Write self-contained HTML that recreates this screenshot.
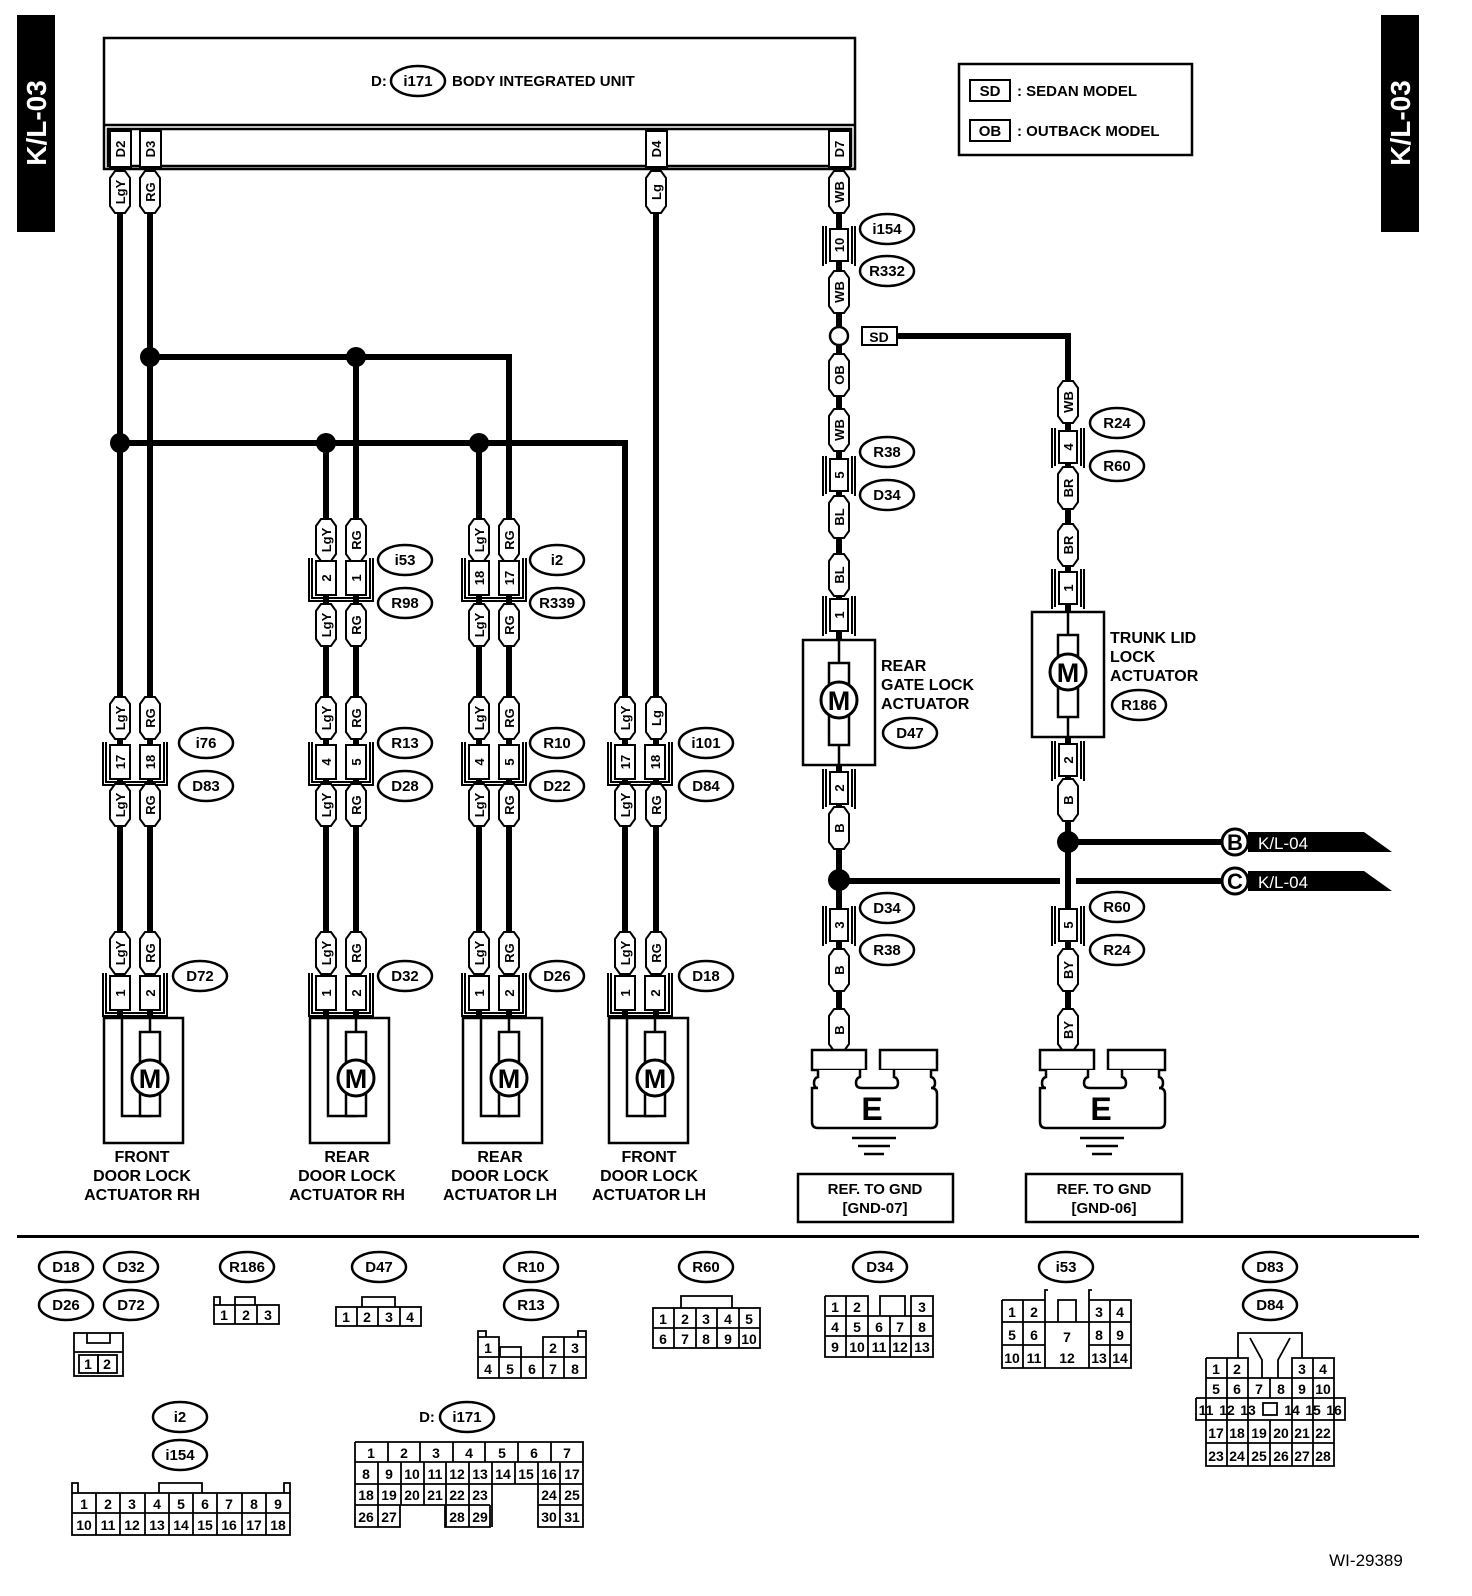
<!DOCTYPE html>
<html><head><meta charset="utf-8"><style>
html,body{margin:0;padding:0;background:#fff}
svg{display:block}
text{font-family:"Liberation Sans",Arial,sans-serif;font-weight:bold;fill:#000}
.s{font-size:16px}
.w{font-size:13px}
.n{font-size:13px;font-weight:normal}
</style></head><body>
<svg width="1472" height="1596" viewBox="0 0 1472 1596" xmlns="http://www.w3.org/2000/svg">
<defs>
<path id="p" d="M-10,-14 L-5,-21 L5,-21 L10,-14 L10,14 L5,21 L-5,21 L-10,14 Z" fill="#fff" stroke="#000" stroke-width="2"/>
<g id="c2" fill="none" stroke="#000" stroke-width="2">
<rect x="-10" y="-17" width="20" height="34" fill="#fff"/><rect x="20" y="-17" width="20" height="34" fill="#fff"/>
<path d="M-14,-20 V20 H44 V-20"/><path d="M-17,-20 V23 H47 V-20"/>
</g>
<g id="c1" fill="none" stroke="#000" stroke-width="2">
<rect x="-9" y="-16" width="18" height="32" fill="#fff"/>
<path d="M-13,-19 V19 M13,-19 V19 M-16,-19 V21 M16,-19 V21"/>
</g>
<g id="dact" fill="none" stroke="#000" stroke-width="2.5">
<rect x="-16" y="0" width="79" height="125" fill="#fff"/>
<path d="M2,0 V98 H30 V84 M30,0 V14"/>
<rect x="20" y="14" width="20" height="84" fill="#fff"/>
<circle cx="30" cy="60" r="18" fill="#fff" stroke-width="3"/>
</g>
<g id="vact" fill="none" stroke="#000" stroke-width="2.5">
<rect x="-36" y="0" width="72" height="125" fill="#fff"/>
<path d="M0,0 V125"/>
<rect x="-10" y="23" width="20" height="82" fill="#fff"/>
<circle cx="0" cy="60" r="18" fill="#fff" stroke-width="3"/>
</g>
<g id="gnd" fill="none" stroke="#000" stroke-width="2.5">
<rect x="0" y="0" width="54" height="20" fill="#fff"/>
<rect x="68" y="0" width="57" height="20" fill="#fff"/>
<path d="M6,20 V27 Q2,28 2,33 Q2,38 6,38 H0 Q0,38 0,44 V72 Q0,78 6,78 H119 Q125,78 125,72 V44 Q125,38 119,38 Q123,38 123,33 Q123,28 119,27 V20 M48,20 V27 Q44,28 44,33 Q44,38 50,38 H81 Q86,38 86,33 Q86,28 82,27 V20" fill="#fff"/>
<path d="M40,88 H84 M46,96 H78 M52,104 H72" stroke-width="2.5"/>
</g>
<ellipse id="o" cx="0" cy="0" rx="27" ry="15" fill="#fff" stroke="#000" stroke-width="2.5"/>
</defs>

<rect x="17" y="15" width="38" height="217" fill="#000"/>
<text transform="translate(46,123) rotate(-90)" text-anchor="middle" style="font-size:28px;fill:#fff">K/L-03</text>
<rect x="1381" y="15" width="38" height="217" fill="#000"/>
<text transform="translate(1410,123) rotate(-90)" text-anchor="middle" style="font-size:28px;fill:#fff">K/L-03</text>

<g fill="none" stroke="#000" stroke-width="2.5">
<rect x="104" y="38" width="751" height="131"/>
<path d="M104,125 H855 M108,129 H851 V166 H108 Z"/>
</g>
<g fill="#fff" stroke="#000" stroke-width="2">
<rect x="110" y="131" width="21" height="36"/><rect x="140" y="131" width="21" height="36"/>
<rect x="646" y="131" width="21" height="36"/><rect x="829" y="131" width="21" height="36"/>
</g>
<g class="w">
<text transform="translate(125,149) rotate(-90)" text-anchor="middle">D2</text>
<text transform="translate(155,149) rotate(-90)" text-anchor="middle">D3</text>
<text transform="translate(661,149) rotate(-90)" text-anchor="middle">D4</text>
<text transform="translate(844,149) rotate(-90)" text-anchor="middle">D7</text>
</g>
<text x="371" y="86" class="w" style="font-size:15px">D:</text>
<use href="#o" x="418" y="81"/>
<text x="418" y="86" text-anchor="middle" class="w" style="font-size:15px">i171</text>
<text x="452" y="86" class="w" style="font-size:15px">BODY INTEGRATED UNIT</text>

<rect x="959" y="64" width="233" height="91" fill="none" stroke="#000" stroke-width="2.5"/>
<rect x="970" y="80" width="40" height="21" fill="none" stroke="#000" stroke-width="2"/>
<text x="990" y="96" text-anchor="middle" class="w" style="font-size:15px">SD</text>
<text x="1017" y="96" class="w" style="font-size:15px">: SEDAN MODEL</text>
<rect x="970" y="120" width="40" height="21" fill="none" stroke="#000" stroke-width="2"/>
<text x="990" y="136" text-anchor="middle" class="w" style="font-size:15px">OB</text>
<text x="1017" y="136" class="w" style="font-size:15px">: OUTBACK MODEL</text>

<g fill="none" stroke="#000" stroke-width="6">
<path d="M120,170 V1018 M150,170 V1018 M656,170 V1018 M326,443 V1018 M356,357 V1018 M479,443 V1018"/>
<path d="M150,357 H509 V1018"/>
<path d="M120,443 H625 V1018"/>
<path d="M839,170 V1050"/>
<path d="M897,336 H1068 V1050"/>
<path d="M1068,842 H1222"/>
<path d="M839,881 H1222"/>
</g>
<rect x="1060" y="875" width="16" height="12" fill="#fff"/>
<rect x="1065" y="870" width="6" height="22" fill="#000"/>
<g fill="#000">
<circle cx="150" cy="357" r="10"/><circle cx="356" cy="357" r="10"/>
<circle cx="120" cy="443" r="10"/><circle cx="326" cy="443" r="10"/><circle cx="479" cy="443" r="10"/>
<circle cx="839" cy="880" r="11"/><circle cx="1068" cy="842" r="11"/>
</g>
<circle cx="839" cy="336" r="9" fill="#fff" stroke="#000" stroke-width="2.5"/>
<rect x="862" y="327" width="35" height="18" fill="#fff" stroke="#000" stroke-width="2"/>
<text x="879" y="342" text-anchor="middle" class="w" style="font-size:14px">SD</text>

<path d="M1248,832 H1364 L1392,852 H1248 Z" fill="#000"/>
<circle cx="1235" cy="842" r="13" fill="#fff" stroke="#000" stroke-width="3"/>
<text x="1235" y="850" text-anchor="middle" style="font-size:22px">B</text>
<text x="1258" y="849" style="font-size:17px;fill:#fff;font-weight:normal">K/L-04</text>
<path d="M1248,871 H1364 L1392,891 H1248 Z" fill="#000"/>
<circle cx="1235" cy="881" r="13" fill="#fff" stroke="#000" stroke-width="3"/>
<text x="1235" y="889" text-anchor="middle" style="font-size:22px">C</text>
<text x="1258" y="888" style="font-size:17px;fill:#fff;font-weight:normal">K/L-04</text>

<use href="#c2" x="120" y="762"/><use href="#c2" x="326" y="762"/><use href="#c2" x="479" y="762"/><use href="#c2" x="625" y="762"/>
<use href="#c2" x="326" y="578"/><use href="#c2" x="479" y="578"/>
<use href="#c2" x="120" y="993"/><use href="#c2" x="326" y="993"/><use href="#c2" x="479" y="993"/><use href="#c2" x="625" y="993"/>
<g class="w">
<text transform="translate(125,762) rotate(-90)" text-anchor="middle">17</text><text transform="translate(155,762) rotate(-90)" text-anchor="middle">18</text>
<text transform="translate(331,762) rotate(-90)" text-anchor="middle">4</text><text transform="translate(361,762) rotate(-90)" text-anchor="middle">5</text>
<text transform="translate(484,762) rotate(-90)" text-anchor="middle">4</text><text transform="translate(514,762) rotate(-90)" text-anchor="middle">5</text>
<text transform="translate(630,762) rotate(-90)" text-anchor="middle">17</text><text transform="translate(660,762) rotate(-90)" text-anchor="middle">18</text>
<text transform="translate(331,578) rotate(-90)" text-anchor="middle">2</text><text transform="translate(361,578) rotate(-90)" text-anchor="middle">1</text>
<text transform="translate(484,578) rotate(-90)" text-anchor="middle">18</text><text transform="translate(514,578) rotate(-90)" text-anchor="middle">17</text>
<text transform="translate(125,993) rotate(-90)" text-anchor="middle">1</text><text transform="translate(155,993) rotate(-90)" text-anchor="middle">2</text>
<text transform="translate(331,993) rotate(-90)" text-anchor="middle">1</text><text transform="translate(361,993) rotate(-90)" text-anchor="middle">2</text>
<text transform="translate(484,993) rotate(-90)" text-anchor="middle">1</text><text transform="translate(514,993) rotate(-90)" text-anchor="middle">2</text>
<text transform="translate(630,993) rotate(-90)" text-anchor="middle">1</text><text transform="translate(660,993) rotate(-90)" text-anchor="middle">2</text>
</g>

<use href="#c1" x="839" y="245"/><use href="#c1" x="839" y="475"/><use href="#c1" x="839" y="615"/><use href="#c1" x="839" y="788"/><use href="#c1" x="839" y="925"/>
<use href="#c1" x="1068" y="447"/><use href="#c1" x="1068" y="588"/><use href="#c1" x="1068" y="760"/><use href="#c1" x="1068" y="925"/>
<g class="w">
<text transform="translate(844,245) rotate(-90)" text-anchor="middle">10</text>
<text transform="translate(844,475) rotate(-90)" text-anchor="middle">5</text>
<text transform="translate(844,615) rotate(-90)" text-anchor="middle">1</text>
<text transform="translate(844,788) rotate(-90)" text-anchor="middle">2</text>
<text transform="translate(844,925) rotate(-90)" text-anchor="middle">3</text>
<text transform="translate(1073,447) rotate(-90)" text-anchor="middle">4</text>
<text transform="translate(1073,588) rotate(-90)" text-anchor="middle">1</text>
<text transform="translate(1073,760) rotate(-90)" text-anchor="middle">2</text>
<text transform="translate(1073,925) rotate(-90)" text-anchor="middle">5</text>
</g>

<g>
<use href="#p" x="120" y="192"/><use href="#p" x="150" y="192"/><use href="#p" x="656" y="192"/><use href="#p" x="839" y="192"/>
<use href="#p" x="326" y="540"/><use href="#p" x="356" y="540"/><use href="#p" x="479" y="540"/><use href="#p" x="509" y="540"/>
<use href="#p" x="326" y="625"/><use href="#p" x="356" y="625"/><use href="#p" x="479" y="625"/><use href="#p" x="509" y="625"/>
<use href="#p" x="120" y="718"/><use href="#p" x="150" y="718"/><use href="#p" x="326" y="718"/><use href="#p" x="356" y="718"/><use href="#p" x="479" y="718"/><use href="#p" x="509" y="718"/><use href="#p" x="625" y="718"/><use href="#p" x="656" y="718"/>
<use href="#p" x="120" y="805"/><use href="#p" x="150" y="805"/><use href="#p" x="326" y="805"/><use href="#p" x="356" y="805"/><use href="#p" x="479" y="805"/><use href="#p" x="509" y="805"/><use href="#p" x="625" y="805"/><use href="#p" x="656" y="805"/>
<use href="#p" x="120" y="953"/><use href="#p" x="150" y="953"/><use href="#p" x="326" y="953"/><use href="#p" x="356" y="953"/><use href="#p" x="479" y="953"/><use href="#p" x="509" y="953"/><use href="#p" x="625" y="953"/><use href="#p" x="656" y="953"/>
<use href="#p" x="839" y="292"/><use href="#p" x="839" y="375"/><use href="#p" x="839" y="430"/><use href="#p" x="839" y="517"/><use href="#p" x="839" y="575"/><use href="#p" x="839" y="828"/><use href="#p" x="839" y="970"/><use href="#p" x="839" y="1030"/>
<use href="#p" x="1068" y="402"/><use href="#p" x="1068" y="488"/><use href="#p" x="1068" y="545"/><use href="#p" x="1068" y="800"/><use href="#p" x="1068" y="970"/><use href="#p" x="1068" y="1030"/>
</g>
<g class="w">
<text transform="translate(125,192) rotate(-90)" text-anchor="middle">LgY</text><text transform="translate(155,192) rotate(-90)" text-anchor="middle">RG</text>
<text transform="translate(661,192) rotate(-90)" text-anchor="middle">Lg</text><text transform="translate(844,192) rotate(-90)" text-anchor="middle">WB</text>
<text transform="translate(331,540) rotate(-90)" text-anchor="middle">LgY</text><text transform="translate(361,540) rotate(-90)" text-anchor="middle">RG</text><text transform="translate(484,540) rotate(-90)" text-anchor="middle">LgY</text><text transform="translate(514,540) rotate(-90)" text-anchor="middle">RG</text>
<text transform="translate(331,625) rotate(-90)" text-anchor="middle">LgY</text><text transform="translate(361,625) rotate(-90)" text-anchor="middle">RG</text><text transform="translate(484,625) rotate(-90)" text-anchor="middle">LgY</text><text transform="translate(514,625) rotate(-90)" text-anchor="middle">RG</text>
<text transform="translate(125,718) rotate(-90)" text-anchor="middle">LgY</text><text transform="translate(155,718) rotate(-90)" text-anchor="middle">RG</text><text transform="translate(331,718) rotate(-90)" text-anchor="middle">LgY</text><text transform="translate(361,718) rotate(-90)" text-anchor="middle">RG</text><text transform="translate(484,718) rotate(-90)" text-anchor="middle">LgY</text><text transform="translate(514,718) rotate(-90)" text-anchor="middle">RG</text><text transform="translate(630,718) rotate(-90)" text-anchor="middle">LgY</text><text transform="translate(661,718) rotate(-90)" text-anchor="middle">Lg</text>
<text transform="translate(125,805) rotate(-90)" text-anchor="middle">LgY</text><text transform="translate(155,805) rotate(-90)" text-anchor="middle">RG</text><text transform="translate(331,805) rotate(-90)" text-anchor="middle">LgY</text><text transform="translate(361,805) rotate(-90)" text-anchor="middle">RG</text><text transform="translate(484,805) rotate(-90)" text-anchor="middle">LgY</text><text transform="translate(514,805) rotate(-90)" text-anchor="middle">RG</text><text transform="translate(630,805) rotate(-90)" text-anchor="middle">LgY</text><text transform="translate(661,805) rotate(-90)" text-anchor="middle">RG</text>
<text transform="translate(125,953) rotate(-90)" text-anchor="middle">LgY</text><text transform="translate(155,953) rotate(-90)" text-anchor="middle">RG</text><text transform="translate(331,953) rotate(-90)" text-anchor="middle">LgY</text><text transform="translate(361,953) rotate(-90)" text-anchor="middle">RG</text><text transform="translate(484,953) rotate(-90)" text-anchor="middle">LgY</text><text transform="translate(514,953) rotate(-90)" text-anchor="middle">RG</text><text transform="translate(630,953) rotate(-90)" text-anchor="middle">LgY</text><text transform="translate(661,953) rotate(-90)" text-anchor="middle">RG</text>
<text transform="translate(844,292) rotate(-90)" text-anchor="middle">WB</text><text transform="translate(844,375) rotate(-90)" text-anchor="middle">OB</text><text transform="translate(844,430) rotate(-90)" text-anchor="middle">WB</text><text transform="translate(844,517) rotate(-90)" text-anchor="middle">BL</text><text transform="translate(844,575) rotate(-90)" text-anchor="middle">BL</text><text transform="translate(844,828) rotate(-90)" text-anchor="middle">B</text><text transform="translate(844,970) rotate(-90)" text-anchor="middle">B</text><text transform="translate(844,1030) rotate(-90)" text-anchor="middle">B</text>
<text transform="translate(1073,402) rotate(-90)" text-anchor="middle">WB</text><text transform="translate(1073,488) rotate(-90)" text-anchor="middle">BR</text><text transform="translate(1073,545) rotate(-90)" text-anchor="middle">BR</text><text transform="translate(1073,800) rotate(-90)" text-anchor="middle">B</text><text transform="translate(1073,970) rotate(-90)" text-anchor="middle">BY</text><text transform="translate(1073,1030) rotate(-90)" text-anchor="middle">BY</text>
</g>

<use href="#dact" x="120" y="1018"/><use href="#dact" x="326" y="1018"/><use href="#dact" x="479" y="1018"/><use href="#dact" x="625" y="1018"/>
<use href="#vact" x="839" y="640"/><use href="#vact" x="1068" y="612"/>
<g style="font-size:27px">
<text x="150" y="1088" text-anchor="middle">M</text><text x="356" y="1088" text-anchor="middle">M</text>
<text x="509" y="1088" text-anchor="middle">M</text><text x="655" y="1088" text-anchor="middle">M</text>
<text x="839" y="710" text-anchor="middle">M</text><text x="1068" y="682" text-anchor="middle">M</text>
</g>
<g class="s" text-anchor="middle">
<text x="142" y="1162">FRONT</text><text x="142" y="1181">DOOR LOCK</text><text x="142" y="1200">ACTUATOR RH</text>
<text x="347" y="1162">REAR</text><text x="347" y="1181">DOOR LOCK</text><text x="347" y="1200">ACTUATOR RH</text>
<text x="500" y="1162">REAR</text><text x="500" y="1181">DOOR LOCK</text><text x="500" y="1200">ACTUATOR LH</text>
<text x="649" y="1162">FRONT</text><text x="649" y="1181">DOOR LOCK</text><text x="649" y="1200">ACTUATOR LH</text>
</g>
<g class="s">
<text x="881" y="671">REAR</text><text x="881" y="690">GATE LOCK</text><text x="881" y="709">ACTUATOR</text>
<text x="1110" y="643">TRUNK LID</text><text x="1110" y="662">LOCK</text><text x="1110" y="681">ACTUATOR</text>
</g>

<use href="#gnd" x="812" y="1050"/><use href="#gnd" x="1040" y="1050"/>
<g style="font-size:32px" text-anchor="middle"><text x="872" y="1120">E</text><text x="1101" y="1120">E</text></g>
<rect x="798" y="1174" width="155" height="48" fill="none" stroke="#000" stroke-width="2.5"/>
<rect x="1026" y="1174" width="156" height="48" fill="none" stroke="#000" stroke-width="2.5"/>
<g class="w" style="font-size:15px" text-anchor="middle">
<text x="875" y="1194">REF. TO GND</text><text x="875" y="1213">[GND-07]</text>
<text x="1104" y="1194">REF. TO GND</text><text x="1104" y="1213">[GND-06]</text>
</g>

<g>
<use href="#o" x="206" y="743"/><use href="#o" x="206" y="786"/>
<use href="#o" x="405" y="743"/><use href="#o" x="405" y="786"/>
<use href="#o" x="557" y="743"/><use href="#o" x="557" y="786"/>
<use href="#o" x="706" y="743"/><use href="#o" x="706" y="786"/>
<use href="#o" x="405" y="560"/><use href="#o" x="405" y="603"/>
<use href="#o" x="557" y="560"/><use href="#o" x="557" y="603"/>
<use href="#o" x="200" y="976"/><use href="#o" x="405" y="976"/><use href="#o" x="557" y="976"/><use href="#o" x="706" y="976"/>
<use href="#o" x="887" y="229"/><use href="#o" x="887" y="271"/>
<use href="#o" x="887" y="452"/><use href="#o" x="887" y="495"/>
<use href="#o" x="910" y="733"/>
<use href="#o" x="1117" y="423"/><use href="#o" x="1117" y="466"/>
<use href="#o" x="1139" y="705"/>
<use href="#o" x="887" y="908"/><use href="#o" x="887" y="950"/>
<use href="#o" x="1117" y="907"/><use href="#o" x="1117" y="950"/>
</g>
<g class="w" style="font-size:15px" text-anchor="middle">
<text x="206" y="748">i76</text><text x="206" y="791">D83</text>
<text x="405" y="748">R13</text><text x="405" y="791">D28</text>
<text x="557" y="748">R10</text><text x="557" y="791">D22</text>
<text x="706" y="748">i101</text><text x="706" y="791">D84</text>
<text x="405" y="565">i53</text><text x="405" y="608">R98</text>
<text x="557" y="565">i2</text><text x="557" y="608">R339</text>
<text x="200" y="981">D72</text><text x="405" y="981">D32</text><text x="557" y="981">D26</text><text x="706" y="981">D18</text>
<text x="887" y="234">i154</text><text x="887" y="276">R332</text>
<text x="887" y="457">R38</text><text x="887" y="500">D34</text>
<text x="910" y="738">D47</text>
<text x="1117" y="428">R24</text><text x="1117" y="471">R60</text>
<text x="1139" y="710">R186</text>
<text x="887" y="913">D34</text><text x="887" y="955">R38</text>
<text x="1117" y="912">R60</text><text x="1117" y="955">R24</text>
</g>

<rect x="17" y="1235" width="1402" height="3" fill="#000"/>

<g>
<use href="#o" x="66" y="1267"/><use href="#o" x="131" y="1267"/><use href="#o" x="66" y="1305"/><use href="#o" x="131" y="1305"/>
<use href="#o" x="247" y="1267"/><use href="#o" x="379" y="1267"/>
<use href="#o" x="531" y="1267"/><use href="#o" x="531" y="1305"/>
<use href="#o" x="706" y="1267"/><use href="#o" x="880" y="1267"/><use href="#o" x="1066" y="1267"/>
<use href="#o" x="1270" y="1267"/><use href="#o" x="1270" y="1305"/>
<use href="#o" x="180" y="1417"/><use href="#o" x="180" y="1455"/>
<use href="#o" x="467" y="1417"/>
</g>
<g class="w" style="font-size:15px" text-anchor="middle">
<text x="66" y="1272">D18</text><text x="131" y="1272">D32</text><text x="66" y="1310">D26</text><text x="131" y="1310">D72</text>
<text x="247" y="1272">R186</text><text x="379" y="1272">D47</text>
<text x="531" y="1272">R10</text><text x="531" y="1310">R13</text>
<text x="706" y="1272">R60</text><text x="880" y="1272">D34</text><text x="1066" y="1272">i53</text>
<text x="1270" y="1272">D83</text><text x="1270" y="1310">D84</text>
<text x="180" y="1422">i2</text><text x="180" y="1460">i154</text>
<text x="467" y="1422">i171</text><text x="427" y="1422">D:</text>
</g>

<g fill="none" stroke="#000" stroke-width="1.8">
<rect x="74" y="1333" width="49" height="43"/><path d="M74,1352 H123 M87,1333 V1343 H110 V1333"/>
<rect x="79" y="1355" width="19" height="18"/><rect x="98" y="1355" width="19" height="18"/>
<rect x="214" y="1305" width="65" height="19"/><path d="M235,1305 V1324 M257,1305 V1324 M214,1305 V1297 H220 V1305 M235,1305 V1297 H255 V1305"/>
<rect x="336" y="1307" width="85" height="19"/><path d="M357,1307 V1326 M378,1307 V1326 M400,1307 V1326 M362,1307 V1297 H395 V1307"/>
<path d="M478,1337 H499 V1357 M543,1357 V1337 H586 V1378 H478 V1337 M564,1337 V1378 M478,1357 H586 M499,1357 V1378 M521,1357 V1378 M543,1357 V1378 M500,1357 V1347 H521 V1357 M478,1337 V1331 H486 V1337 M586,1337 V1331 H578 V1337"/>
<rect x="653" y="1308" width="107" height="40"/><path d="M653,1328 H760 M674,1308 V1348 M696,1308 V1348 M717,1308 V1348 M739,1308 V1348 M681,1308 V1296 H732 V1308"/>
<path d="M825,1296 H868 V1316 M825,1296 V1357 H933 V1296 H911 V1316 M846,1296 V1357 M825,1316 H933 M825,1336 H933 M868,1316 V1357 M890,1316 V1357 M911,1316 V1357 M880,1316 V1296 H905 V1316"/>
<path d="M1002,1300 H1045 V1322 M1089,1322 V1300 H1131 V1368 H1002 V1300 M1023,1300 V1368 M1002,1322 H1131 M1002,1345 H1045 M1089,1345 H1131 M1045,1322 V1368 M1089,1322 V1368 M1110,1300 V1368 M1058,1322 V1300 H1076 V1322 M1045,1300 V1290 H1048 M1089,1300 V1290 H1092"/>
<path d="M1206,1358 H1248 V1378 M1292,1378 V1358 H1334 V1466 H1206 V1358 M1227,1358 V1466 M1206,1378 H1334 M1196,1398 H1345 V1420 H1196 V1398 M1206,1443 H1334 M1248,1378 V1466 M1270,1378 V1398 M1270,1420 V1466 M1292,1358 V1466 M1313,1358 V1466 M1206,1398 V1420 M1227,1398 V1420 M1248,1398 V1420 M1292,1398 V1420 M1313,1398 V1420 M1334,1398 V1420"/>
<path d="M1248,1333 H1292 M1250,1338 L1262,1360 V1378 M1290,1338 L1278,1360 V1378 M1238,1358 V1333 H1248 M1292,1333 H1302 V1358"/>
<rect x="1263" y="1403" width="14" height="12"/>
<rect x="72" y="1493" width="218" height="42"/><path d="M72,1513 H290 M96,1493 V1535 M120,1493 V1535 M145,1493 V1535 M169,1493 V1535 M193,1493 V1535 M217,1493 V1535 M242,1493 V1535 M266,1493 V1535 M72,1493 V1483 H78 V1493 M290,1493 V1483 H284 V1493 M159,1493 V1483 H202 V1493"/>
<path d="M355,1442 H583 V1505 H538 V1527 H583 V1505 M355,1442 V1527 H400 V1505 M445,1505 V1527 H490 V1505 M355,1462 H583 M355,1484 H583 M355,1505 H490 M538,1505 H583 M388,1442 V1462 M420,1442 V1462 M453,1442 V1462 M485,1442 V1462 M518,1442 V1462 M551,1442 V1462 M378,1462 V1527 M401,1462 V1505 M424,1462 V1505 M446,1462 V1527 M469,1462 V1527 M492,1462 V1527 M515,1462 V1484 M538,1462 V1527 M560,1462 V1527"/>
</g>
<g class="n" text-anchor="middle" style="font-size:14px">
<text x="88" y="1369">1</text><text x="107" y="1369">2</text>
<text x="224" y="1320">1</text><text x="246" y="1320">2</text><text x="268" y="1320">3</text>
<text x="346" y="1322">1</text><text x="367" y="1322">2</text><text x="389" y="1322">3</text><text x="410" y="1322">4</text>
<text x="488" y="1353">1</text><text x="553" y="1353">2</text><text x="575" y="1353">3</text>
<text x="488" y="1374">4</text><text x="510" y="1374">5</text><text x="532" y="1374">6</text><text x="553" y="1374">7</text><text x="575" y="1374">8</text>
<text x="663" y="1324">1</text><text x="685" y="1324">2</text><text x="706" y="1324">3</text><text x="728" y="1324">4</text><text x="749" y="1324">5</text>
<text x="663" y="1344">6</text><text x="685" y="1344">7</text><text x="706" y="1344">8</text><text x="728" y="1344">9</text><text x="749" y="1344">10</text>
<text x="835" y="1312">1</text><text x="857" y="1312">2</text><text x="922" y="1312">3</text>
<text x="835" y="1332">4</text><text x="857" y="1332">5</text><text x="879" y="1332">6</text><text x="900" y="1332">7</text><text x="922" y="1332">8</text>
<text x="835" y="1352">9</text><text x="857" y="1352">10</text><text x="879" y="1352">11</text><text x="900" y="1352">12</text><text x="922" y="1352">13</text>
<text x="1012" y="1317">1</text><text x="1034" y="1317">2</text><text x="1099" y="1317">3</text><text x="1120" y="1317">4</text>
<text x="1012" y="1340">5</text><text x="1034" y="1340">6</text><text x="1067" y="1342">7</text><text x="1099" y="1340">8</text><text x="1120" y="1340">9</text>
<text x="1012" y="1363">10</text><text x="1034" y="1363">11</text><text x="1067" y="1363">12</text><text x="1099" y="1363">13</text><text x="1120" y="1363">14</text>
<text x="1216" y="1374">1</text><text x="1237" y="1374">2</text><text x="1302" y="1374">3</text><text x="1323" y="1374">4</text>
<text x="1216" y="1394">5</text><text x="1237" y="1394">6</text><text x="1259" y="1394">7</text><text x="1281" y="1394">8</text><text x="1302" y="1394">9</text><text x="1323" y="1394">10</text>
<text x="1206" y="1415">11</text><text x="1227" y="1415">12</text><text x="1248" y="1415">13</text><text x="1292" y="1415">14</text><text x="1313" y="1415">15</text><text x="1334" y="1415">16</text>
<text x="1216" y="1438">17</text><text x="1237" y="1438">18</text><text x="1259" y="1438">19</text><text x="1281" y="1438">20</text><text x="1302" y="1438">21</text><text x="1323" y="1438">22</text>
<text x="1216" y="1461">23</text><text x="1237" y="1461">24</text><text x="1259" y="1461">25</text><text x="1281" y="1461">26</text><text x="1302" y="1461">27</text><text x="1323" y="1461">28</text>
<text x="84" y="1509">1</text><text x="108" y="1509">2</text><text x="132" y="1509">3</text><text x="157" y="1509">4</text><text x="181" y="1509">5</text><text x="205" y="1509">6</text><text x="229" y="1509">7</text><text x="254" y="1509">8</text><text x="278" y="1509">9</text>
<text x="84" y="1530">10</text><text x="108" y="1530">11</text><text x="132" y="1530">12</text><text x="157" y="1530">13</text><text x="181" y="1530">14</text><text x="205" y="1530">15</text><text x="229" y="1530">16</text><text x="254" y="1530">17</text><text x="278" y="1530">18</text>
<text x="371" y="1458">1</text><text x="404" y="1458">2</text><text x="436" y="1458">3</text><text x="469" y="1458">4</text><text x="502" y="1458">5</text><text x="534" y="1458">6</text><text x="567" y="1458">7</text>
<text x="366" y="1479">8</text><text x="389" y="1479">9</text><text x="412" y="1479">10</text><text x="435" y="1479">11</text><text x="457" y="1479">12</text><text x="480" y="1479">13</text><text x="503" y="1479">14</text><text x="526" y="1479">15</text><text x="549" y="1479">16</text><text x="572" y="1479">17</text>
<text x="366" y="1500">18</text><text x="389" y="1500">19</text><text x="412" y="1500">20</text><text x="435" y="1500">21</text><text x="457" y="1500">22</text><text x="480" y="1500">23</text><text x="549" y="1500">24</text><text x="572" y="1500">25</text>
<text x="366" y="1522">26</text><text x="389" y="1522">27</text><text x="457" y="1522">28</text><text x="480" y="1522">29</text><text x="549" y="1522">30</text><text x="572" y="1522">31</text>
</g>
<text x="1366" y="1566" text-anchor="middle" style="font-size:17px;font-weight:normal">WI-29389</text>
</svg>
</body></html>
